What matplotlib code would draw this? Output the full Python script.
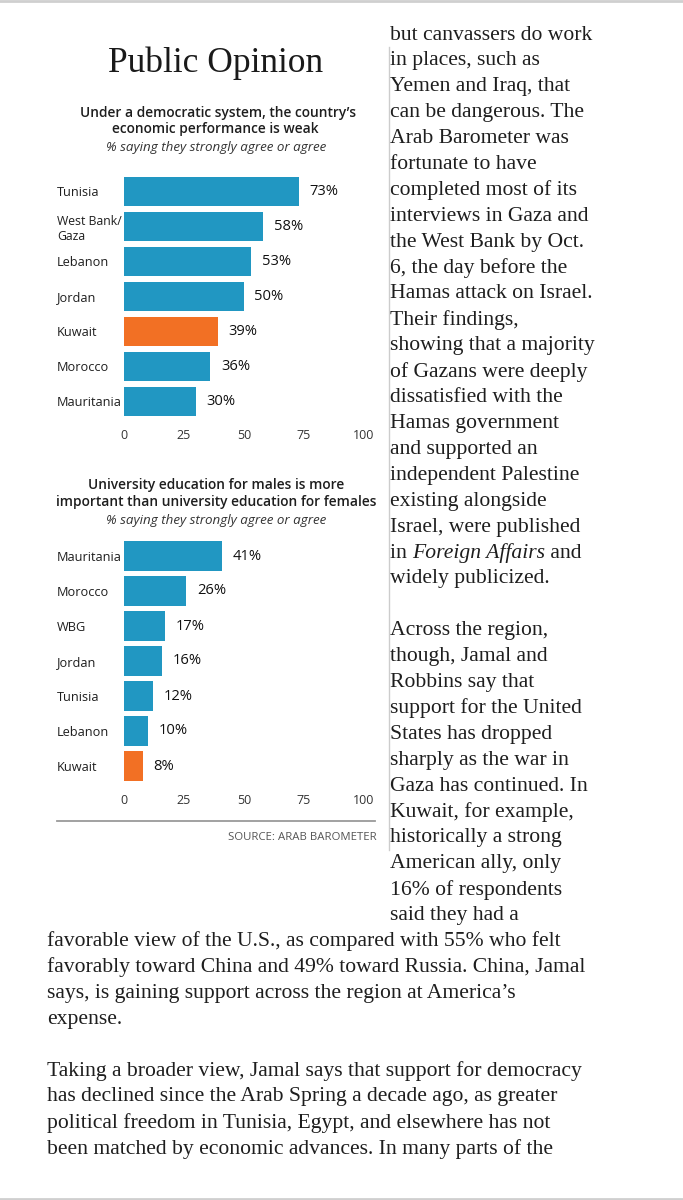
import matplotlib
matplotlib.use("Agg")
import matplotlib.pyplot as plt
from matplotlib.lines import Line2D

# ---------------- data ----------------
countries_econ = ["Tunisia", "West Bank/\nGaza", "Lebanon", "Jordan", "Kuwait", "Morocco", "Mauritania"]
values_econ = [73, 58, 53, 50, 39, 36, 30]

countries_edu = ["Mauritania", "Morocco", "WBG", "Jordan", "Tunisia", "Lebanon", "Kuwait"]
values_edu = [41, 26, 17, 16, 12, 10, 8]

highlight = "Kuwait"
x_ticks = [0, 25, 50, 75, 100]

title = "Public Opinion"
chart1_title = ["Under a democratic system, the country\u2019s", "economic performance is weak"]
chart2_title = ["University education for males is more", "important than university education for females"]
chart_subtitle = "% saying they strongly agree or agree"
source = "SOURCE: ARAB BAROMETER"

column_lines = [
    "but canvassers do work", "in places, such as", "Yemen and Iraq, that",
    "can be dangerous. The", "Arab Barometer was", "fortunate to have",
    "completed most of its", "interviews in Gaza and", "the West Bank by Oct.",
    "6, the day before the", "Hamas attack on Israel.", "Their findings,",
    "showing that a majority", "of Gazans were deeply", "dissatisfied with the",
    "Hamas government", "and supported an", "independent Palestine",
    "existing alongside", "Israel, were published", "in |Foreign Affairs| and",
    "widely publicized.", "", "Across the region,", "though, Jamal and",
    "Robbins say that", "support for the United", "States has dropped",
    "sharply as the war in", "Gaza has continued. In", "Kuwait, for example,",
    "historically a strong", "American ally, only", "16% of respondents",
    "said they had a",
]
full_lines = [
    "favorable view of the U.S., as compared with 55% who felt",
    "favorably toward China and 49% toward Russia. China, Jamal",
    "says, is gaining support across the region at America\u2019s",
    "expense.", "",
    "Taking a broader view, Jamal says that support for democracy",
    "has declined since the Arab Spring a decade ago, as greater",
    "political freedom in Tunisia, Egypt, and elsewhere has not",
    "been matched by economic advances. In many parts of the",
]

# ---------------- style ----------------
BLUE = "#2197C2"
ORANGE = "#F27024"
SANS = ["Open Sans", "DejaVu Sans"]
SERIF = ["Liberation Serif", "DejaVu Serif"]
TXT = "#1e1e1e"

W, H = 683, 1200
fig = plt.figure(figsize=(W / 100, H / 100), dpi=100)
fig.patch.set_facecolor("white")


def fx(x):
    return x / W


def fy(y):
    return 1 - y / H


def bar_chart(top, bottom, cats, vals):
    ax = fig.add_axes([fx(124), fy(bottom), (364 - 124) / W, (bottom - top) / H])
    ypos = list(range(len(cats)))
    colors = [ORANGE if c == highlight else BLUE for c in cats]
    ax.barh(ypos, vals, height=0.83, color=colors)
    ax.set_xlim(0, 100)
    ax.set_ylim(len(cats) - 0.5, -0.5)
    ax.set_yticks(ypos)
    ax.set_yticklabels(cats, fontfamily=SANS, fontsize=9.2, color=TXT, linespacing=1.2)
    for lab in ax.get_yticklabels():
        lab.set_ha("left")
        if "\n" in lab.get_text():
            lab.set_fontsize(8.8)
    ax.tick_params(axis="y", length=0, pad=67 * 0.72)
    ax.set_xticks(x_ticks)
    ax.set_xticklabels([str(t) for t in x_ticks], fontfamily=SANS, fontsize=9, color="#333333")
    ax.tick_params(axis="x", length=0, pad=7.5)
    for s in ax.spines.values():
        s.set_visible(False)
    ax.set_facecolor("none")
    for y, v in zip(ypos, vals):
        ax.annotate(f"{v}%", (v, y), xytext=(7.5, 0), textcoords="offset points",
                    va="center", ha="left", fontsize=10.6, fontfamily=SANS,
                    fontweight="normal", color="#111111")
    return ax


# title
fig.text(fx(216), fy(63), title, ha="center", va="center", fontsize=25.5,
         fontfamily=SERIF, color="#1a1a1a")

SUB_FS = 9.6
HEAD_FS = 9.9
# chart 1
fig.text(fx(218), fy(113), chart1_title[0], ha="center", va="center", fontsize=HEAD_FS,
         fontfamily=SANS, fontweight="semibold", color=TXT)
fig.text(fx(215), fy(129.5), chart1_title[1], ha="center", va="center", fontsize=HEAD_FS,
         fontfamily=SANS, fontweight="semibold", color=TXT)
fig.text(fx(216), fy(147.5), chart_subtitle, ha="center", va="center", fontsize=SUB_FS,
         fontfamily=SANS, style="italic", color="#333333")
bar_chart(174, 418.5, countries_econ, values_econ)

# chart 2
fig.text(fx(216), fy(485), chart2_title[0], ha="center", va="center", fontsize=HEAD_FS,
         fontfamily=SANS, fontweight="semibold", color=TXT)
fig.text(fx(216), fy(502), chart2_title[1], ha="center", va="center", fontsize=HEAD_FS,
         fontfamily=SANS, fontweight="semibold", color=TXT)
fig.text(fx(216), fy(521), chart_subtitle, ha="center", va="center", fontsize=SUB_FS,
         fontfamily=SANS, style="italic", color="#333333")
bar_chart(538.5, 783.5, countries_edu, values_edu)

# rule + source
fig.add_artist(Line2D([fx(57), fx(375)], [fy(821), fy(821)], color="#9a9a9a", lw=1.3))
fig.text(fx(377), fy(837), source, ha="right", va="center", fontsize=8.2,
         fontfamily=SANS, color="#555555")

# page lines
fig.add_artist(Line2D([0, 1], [fy(1), fy(1)], color="#cfcfcf", lw=2))
fig.add_artist(Line2D([0, 1], [fy(1198.5), fy(1198.5)], color="#cfcfcf", lw=2))
fig.add_artist(Line2D([fx(388.5), fx(388.5)], [fy(47), fy(850)], color="#cccccc", lw=1))

# body text
BODY_FS = 15.6
LINE_H = 25.9
renderer = fig.canvas.get_renderer()


def body_line(x, y, line):
    parts = line.split("|")
    cx = x
    for i, part in enumerate(parts):
        if not part:
            continue
        t = fig.text(fx(cx), fy(y), part, ha="left", va="center", fontsize=BODY_FS,
                     fontfamily=SERIF, color=TXT, style="italic" if i % 2 else "normal")
        bb = t.get_window_extent(renderer=renderer)
        cx += bb.width


for i, line in enumerate(column_lines):
    if line:
        body_line(390, 35 + LINE_H * i, line)
start = len(column_lines)
for j, line in enumerate(full_lines):
    if line:
        body_line(47, 35 + LINE_H * (start + j), line)

fig.savefig("out.png", dpi=100, facecolor="white")
